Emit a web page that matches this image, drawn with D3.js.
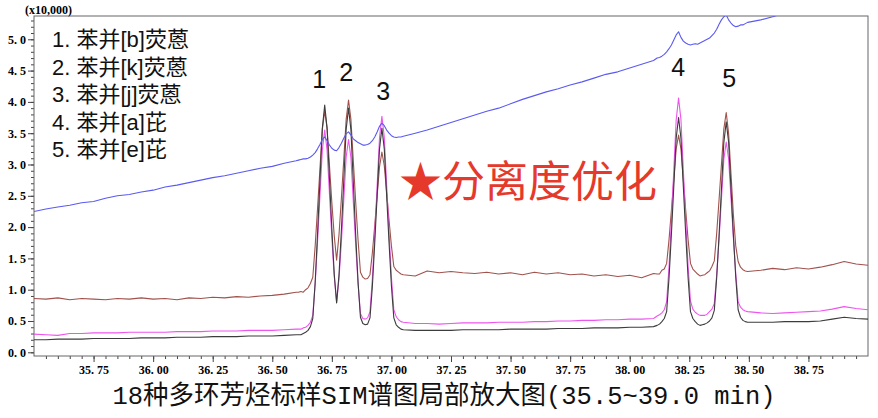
<!DOCTYPE html>
<html><head><meta charset="utf-8">
<script src="https://cdn.jsdelivr.net/npm/d3@7"></script>
<style>
html,body{margin:0;padding:0;background:#fff;}
svg{display:block;}
</style></head>
<body><svg id="c" width="878" height="418"></svg>
<script>
// retention time (min)
const rt = [
35.50,35.55,35.60,35.65,35.70,35.75,35.80,35.85,35.90,35.95,36.00,36.05,36.10,36.15,36.20,36.25,36.30,36.35,36.40,36.45,36.50,36.55,36.60,
36.61,36.62,36.63,36.64,36.65,36.66,36.67,36.68,36.69,36.70,36.71,36.72,36.73,36.74,36.75,36.76,36.77,36.78,36.79,36.80,36.81,36.82,36.83,36.84,36.85,36.86,36.87,36.88,36.89,36.90,36.91,36.92,36.93,36.94,36.95,36.96,36.97,36.98,36.99,37.00,37.01,37.02,37.03,37.04,37.05,
37.10,37.15,37.20,37.25,37.30,37.35,37.40,37.45,37.50,37.55,37.60,37.65,37.70,37.75,37.80,37.85,37.90,37.95,38.00,38.05,38.10,
38.115,38.125,38.135,38.145,38.155,38.165,38.175,38.185,38.195,38.205,38.215,38.225,38.235,38.245,38.255,38.265,38.275,38.285,38.295,38.305,38.315,38.325,38.335,38.345,38.355,38.365,38.375,38.385,38.395,38.405,38.415,38.425,38.435,38.445,38.455,38.465,38.475,38.485,38.495,
38.55,38.60,38.65,38.70,38.75,38.80,38.85,38.90,38.95,39.00
];
// intensities (x10,000)
const blackTrace = [
0.20,0.20,0.21,0.21,0.21,0.22,0.22,0.22,0.22,0.23,0.23,0.23,0.24,0.24,0.24,0.25,0.25,0.25,0.26,0.26,0.26,0.27,0.28,
0.28,0.28,0.30,0.32,0.35,0.41,0.54,1.12,1.90,2.74,3.58,3.95,3.58,2.78,1.97,1.25,0.79,1.24,1.95,2.74,3.56,3.90,3.55,2.72,1.88,1.12,0.56,0.46,0.44,0.45,0.55,1.05,1.75,2.50,3.25,3.58,3.25,2.50,1.75,1.06,0.55,0.44,0.40,0.37,0.36,
0.35,0.35,0.35,0.35,0.36,0.36,0.36,0.36,0.37,0.37,0.37,0.37,0.38,0.38,0.38,0.39,0.39,0.39,0.40,0.40,0.41,
0.43,0.45,0.49,0.54,0.65,1.19,1.89,2.65,3.42,3.75,3.42,2.65,1.89,1.19,0.65,0.54,0.49,0.45,0.43,0.44,0.45,0.47,0.50,0.55,0.67,1.19,1.87,2.61,3.35,3.68,3.36,2.62,1.88,1.20,0.68,0.56,0.51,0.49,0.48,
0.48,0.48,0.49,0.49,0.49,0.50,0.53,0.56,0.54,0.53
];
const magentaTrace = [
0.29,0.28,0.27,0.30,0.30,0.31,0.31,0.31,0.32,0.32,0.32,0.32,0.33,0.33,0.33,0.34,0.34,0.34,0.35,0.35,0.35,0.36,0.37,
0.37,0.37,0.39,0.40,0.43,0.48,0.59,1.10,1.77,2.50,3.23,3.55,3.23,2.53,1.83,1.21,0.80,1.18,1.76,2.43,3.12,3.40,3.11,2.41,1.72,1.09,0.62,0.54,0.53,0.55,0.65,1.18,1.89,2.66,3.43,3.77,3.44,2.67,1.91,1.20,0.68,0.57,0.52,0.49,0.48,
0.46,0.46,0.45,0.46,0.47,0.47,0.47,0.48,0.48,0.48,0.49,0.49,0.50,0.50,0.51,0.51,0.52,0.52,0.53,0.53,0.54,
0.58,0.60,0.63,0.68,0.81,1.37,2.10,2.91,3.71,4.06,3.72,2.92,2.11,1.38,0.82,0.69,0.64,0.61,0.59,0.59,0.59,0.61,0.65,0.69,0.78,1.24,1.81,2.45,3.08,3.36,3.09,2.47,1.83,1.26,0.81,0.72,0.68,0.66,0.65,
0.63,0.62,0.63,0.64,0.65,0.66,0.69,0.73,0.70,0.68
];
const brownTrace = [
0.86,0.85,0.87,0.84,0.86,0.85,0.84,0.86,0.85,0.87,0.85,0.86,0.84,0.87,0.86,0.88,0.87,0.89,0.88,0.90,0.91,0.93,0.96,
0.96,0.97,0.96,1.00,1.03,1.10,1.20,1.70,2.30,2.93,3.56,3.85,3.58,2.98,2.39,1.86,1.47,1.88,2.46,3.08,3.72,4.03,3.72,3.06,2.40,1.79,1.28,1.20,1.17,1.18,1.24,1.59,2.03,2.50,2.96,3.20,2.98,2.55,2.11,1.70,1.37,1.31,1.28,1.25,1.24,
1.22,1.30,1.27,1.29,1.27,1.26,1.28,1.25,1.27,1.24,1.28,1.25,1.27,1.24,1.25,1.22,1.24,1.21,1.23,1.19,1.26,
1.25,1.25,1.31,1.33,1.42,1.80,2.27,2.76,3.25,3.47,3.25,2.76,2.27,1.80,1.42,1.33,1.29,1.25,1.22,1.23,1.24,1.27,1.30,1.37,1.46,1.90,2.44,3.00,3.57,3.83,3.50,2.85,2.20,1.70,1.45,1.36,1.32,1.30,1.29,
1.31,1.34,1.32,1.35,1.33,1.36,1.40,1.45,1.41,1.39
];
const blueTrace = [
2.25,2.29,2.32,2.35,2.39,2.41,2.46,2.50,2.52,2.56,2.59,2.64,2.67,2.71,2.75,2.79,2.82,2.86,2.90,2.94,2.97,3.02,3.06,
3.07,3.08,3.09,3.09,3.10,3.12,3.15,3.19,3.25,3.32,3.40,3.44,3.38,3.31,3.26,3.23,3.22,3.27,3.34,3.42,3.49,3.52,3.47,3.41,3.38,3.35,3.33,3.31,3.31,3.32,3.34,3.38,3.44,3.52,3.61,3.66,3.62,3.55,3.50,3.46,3.44,3.43,3.44,3.44,3.45,
3.50,3.55,3.61,3.67,3.73,3.79,3.85,3.90,3.97,4.04,4.10,4.16,4.21,4.27,4.32,4.38,4.44,4.48,4.54,4.60,4.66,
4.70,4.71,4.73,4.76,4.80,4.85,4.91,4.99,5.07,5.12,5.03,4.97,4.94,4.92,4.91,4.92,4.93,4.92,4.94,4.96,4.98,5.00,5.02,5.06,5.10,5.16,5.24,5.31,5.36,5.39,5.31,5.26,5.22,5.20,5.21,5.23,5.23,5.25,5.27,
5.31,5.36,5.42,5.48,5.53,5.58,5.63,5.68,5.72,5.77
];
const yTicks = [0.0,0.5,1.0,1.5,2.0,2.5,3.0,3.5,4.0,4.5,5.0];
const xTicks = [35.75,36.00,36.25,36.50,36.75,37.00,37.25,37.50,37.75,38.00,38.25,38.50,38.75];
const legendItems = ["1. 苯并[b]荧蒽","2. 苯并[k]荧蒽","3. 苯并[j]荧蒽","4. 苯并[a]芘","5. 苯并[e]芘"];
const peakLabels = ["1","2","3","4","5"];
const peakTimes = [36.697,36.81,36.965,38.203,38.417];
const peakLabelValues = [4.22,4.33,4.03,4.42,4.23];

const svg = d3.select("#c");
const L=34,R=868,T=16,B=356;
const x = d3.scaleLinear().domain([35.5,39.0]).range([L,R]);
const y = d3.scaleLinear().domain([-0.059,5.372]).range([B,T]);

svg.append("defs").append("clipPath").attr("id","clip")
  .append("rect").attr("x",L).attr("y",T).attr("width",R-L).attr("height",B-T);

// axes
const tickFont = "'Liberation Serif','DejaVu Serif',serif";
const fmt2 = d => d.toFixed(2).replace(".", ". ");
const fmt1 = d => d.toFixed(1).replace(".", ". ");

const yMinor = d3.range(0,54).map(i=>i/10);
svg.append("g").attr("transform",`translate(${L},0)`)
  .call(d3.axisLeft(y).tickValues(yMinor).tickSize(3).tickFormat(""))
  .call(g=>g.select(".domain").remove())
  .selectAll("line").attr("stroke","#444");
svg.append("g").attr("transform",`translate(${L},0)`)
  .call(d3.axisLeft(y).tickValues(yTicks).tickSize(6).tickPadding(2).tickFormat(fmt1))
  .call(g=>g.select(".domain").remove())
  .call(g=>g.selectAll("line").attr("stroke","#444"))
  .call(g=>g.selectAll("text").attr("font-family",tickFont).attr("font-weight","bold").attr("font-size",12).attr("fill","#000").style("white-space","pre"));

const xMinor = d3.range(1,70).map(i=>35.5+i*0.05);
svg.append("g").attr("transform",`translate(0,${B})`)
  .call(d3.axisBottom(x).tickValues(xMinor).tickSize(3).tickFormat(""))
  .call(g=>g.select(".domain").remove())
  .selectAll("line").attr("stroke","#444");
svg.append("g").attr("transform",`translate(0,${B})`)
  .call(d3.axisBottom(x).tickValues(xTicks).tickSize(6).tickPadding(3).tickFormat(fmt2))
  .call(g=>g.select(".domain").remove())
  .call(g=>g.selectAll("line").attr("stroke","#444"))
  .call(g=>g.selectAll("text").attr("font-family",tickFont).attr("font-weight","bold").attr("font-size",12).attr("fill","#000").style("white-space","pre"));

svg.append("rect").attr("x",L).attr("y",T).attr("width",R-L).attr("height",B-T)
  .attr("fill","none").attr("stroke","#666").attr("stroke-width",1);

svg.append("text").attr("x",25).attr("y",14).text("(x10,000)")
  .attr("font-family",tickFont).attr("font-weight","bold").attr("font-size",12).attr("fill","#000");

// traces
const line = vals => d3.line().x((d,i)=>x(rt[i])).y(d=>y(d))(vals);
const plot = svg.append("g").attr("clip-path","url(#clip)");
const series = [
  {v:brownTrace, c:"#a0524c"},
  {v:magentaTrace, c:"#ee55ee"},
  {v:blackTrace, c:"#3c3c3c"},
  {v:blueTrace, c:"#5a5af2"}
];
series.forEach(s=>{
  plot.append("path").attr("d",line(s.v)).attr("fill","none")
    .attr("stroke",s.c).attr("stroke-width",1.1).attr("stroke-linejoin","round");
});

// legend
const legFont = "'Liberation Sans',Arial,'Noto Sans CJK SC',sans-serif";
svg.append("g").selectAll("text").data(legendItems).join("text")
  .attr("x",52).attr("y",(d,i)=>47+i*27.6).text(d=>d)
  .attr("font-family",legFont).attr("font-size",22).attr("fill","#111");

// peak labels
svg.append("g").selectAll("text").data(peakLabels).join("text")
  .attr("x",(d,i)=>x(peakTimes[i])).attr("y",(d,i)=>y(peakLabelValues[i]))
  .attr("text-anchor","middle").text(d=>d)
  .attr("font-family",legFont).attr("font-size",25).attr("fill","#111");

// annotation
svg.append("text").attr("x",399).attr("y",197).text("★分离度优化")
  .attr("font-family","'Noto Sans CJK SC',sans-serif").attr("font-size",43).attr("fill","#e5392b");

// caption
svg.append("text").attr("x",444).attr("y",404).attr("text-anchor","middle")
  .attr("textLength",663).attr("lengthAdjust","spacingAndGlyphs")
  .text("18种多环芳烃标样SIM谱图局部放大图(35.5~39.0 min)")
  .attr("font-family","'Liberation Mono','Noto Sans CJK SC',monospace").attr("font-size",26).attr("fill","#111");
</script>
</body></html>
